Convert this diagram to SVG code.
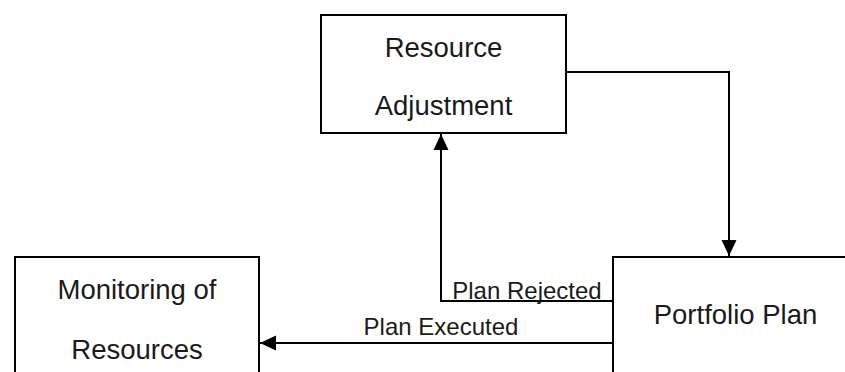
<svg xmlns="http://www.w3.org/2000/svg" width="845" height="372" viewBox="0 0 845 372">
<style>
.box{fill:#fff;stroke:#000;stroke-width:2}
.node{font-family:"Liberation Sans",Arial,sans-serif;font-size:27.5px;fill:#1a1a1a;text-anchor:middle}
.lbl{font-family:"Liberation Sans",Arial,sans-serif;font-size:24px;fill:#1a1a1a;text-anchor:middle}
.edge{fill:none;stroke:#000;stroke-width:2}
</style>
<defs>
<marker id="arr" markerUnits="userSpaceOnUse" markerWidth="16" markerHeight="16" viewBox="0 0 15 14" refX="15" refY="7" orient="auto">
<path d="M0,0 L15,7 L0,14 Z" fill="#000"/>
</marker>
</defs>
<rect width="845" height="372" fill="#fff"/>
<g id="resource-adjustment">
<rect class="box" x="321" y="15" width="245" height="118"/>
<text class="node" x="443.5" y="57">Resource</text>
<text class="node" x="443.5" y="115">Adjustment</text>
</g>
<g id="monitoring-of-resources">
<rect class="box" x="15" y="257" width="244" height="200"/>
<text class="node" x="137" y="298.5">Monitoring of</text>
<text class="node" x="137" y="358.5">Resources</text>
</g>
<g id="portfolio-plan">
<rect class="box" x="613" y="257" width="260" height="200"/>
<text class="node" x="735.5" y="324">Portfolio Plan</text>
</g>
<g id="connectors">
<polyline class="edge" points="566,72 729,72 729,256" marker-end="url(#arr)"/>
<polyline class="edge" points="612,301 441,301 441,134" marker-end="url(#arr)"/>
<text class="lbl" x="527" y="299">Plan Rejected</text>
<line class="edge" x1="612" y1="343" x2="260" y2="343" marker-end="url(#arr)"/>
<text class="lbl" x="441" y="335">Plan Executed</text>
</g>
</svg>
